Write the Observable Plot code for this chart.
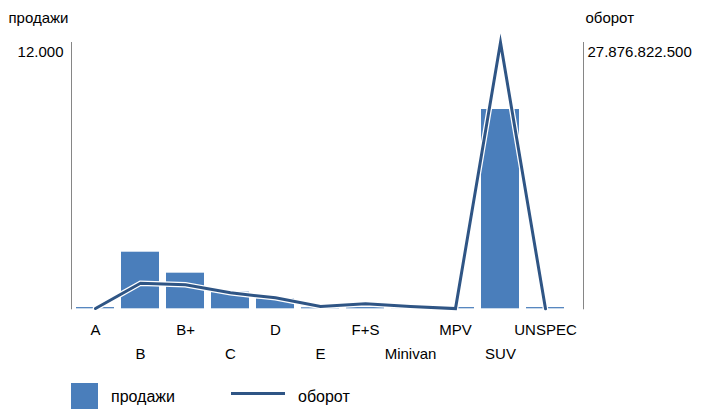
<!DOCTYPE html>
<html>
<head>
<meta charset="utf-8">
<script src="https://cdn.jsdelivr.net/npm/d3@7"></script>
<script src="https://cdn.jsdelivr.net/npm/@observablehq/plot@0.6"></script>
<style>
  body { margin: 0; background: #fff; font-family: 'Liberation Sans', Arial, sans-serif; }
  #legend { position: relative; height: 41px; width: 709px; font-size: 16px; color: #000; }
  #legend .sw { position: absolute; }
  #legend .lb { position: absolute; top: 17px; line-height: 20px; }
</style>
</head>
<body>
<div id="chart"></div>
<div id="legend">
  <span class="sw" style="left:71px;top:13px;width:27px;height:26px;background:#4a7ebb"></span>
  <span class="lb" style="left:111px">продажи</span>
  <span class="sw" style="left:231px;top:22px;width:54px;height:3px;background:#2f5585"></span>
  <span class="lb" style="left:298px">оборот</span>
</div>
<script>
const categories = ["A", "B", "B+", "C", "D", "E", "F+S", "Minivan", "MPV", "SUV", "UNSPEC"];
const sales = [55, 2550, 1605, 750, 450, 45, 55, 5, 55, 8980, 55];
const revenue = [30000000, 2680000000, 2510000000, 1670000000, 1150000000, 240000000, 520000000, 240000000, 20000000, 27876822500, 0];
const salesMax = 12000;
const revenueMax = 27876822500;
const leftTitle = "продажи";
const rightTitle = "оборот";
const leftTickLabel = "12.000";
const rightTickLabel = "27.876.822.500";

const data = categories.map((c, i) => ({cat: c, sales: sales[i], rev: revenue[i], revScaled: revenue[i] * salesMax / revenueMax}));
const evenCats = categories.filter((c, i) => i % 2 === 0);
const oddCats = categories.filter((c, i) => i % 2 === 1);

const chart = Plot.plot({
  width: 709,
  height: 370,
  marginTop: 42,
  marginBottom: 61.7,
  marginLeft: 71,
  marginRight: 126,
  style: {fontFamily: "'Liberation Sans', Arial, sans-serif", fontSize: "15px", color: "#000", background: "#fff"},
  x: {domain: categories, range: [70, 570], paddingInner: 0.16, paddingOuter: 0.08, align: 0.5},
  y: {domain: [0, salesMax]},
  marks: [
    Plot.frame({anchor: "left", stroke: "#868686"}),
    Plot.frame({anchor: "right", stroke: "#868686"}),
    Plot.barY(data, {x: "cat", y: "sales", fill: "#4a7ebb"}),
    Plot.line(data, {x: "cat", y: "revScaled", stroke: "#fff", strokeWidth: 5.5, strokeLinejoin: "miter", strokeMiterlimit: 20}),
    Plot.line(data, {x: "cat", y: "revScaled", stroke: "#2f5585", strokeWidth: 3, strokeLinejoin: "miter", strokeMiterlimit: 20}),
    Plot.axisY({anchor: "left", ticks: [salesMax], tickFormat: () => leftTickLabel, tickSize: 0, tickPadding: 8, dy: 10, label: null}),
    Plot.axisY({anchor: "right", ticks: [salesMax], tickFormat: () => rightTickLabel, tickSize: 0, tickPadding: 4, dy: 10, label: null}),
    Plot.axisX({ticks: evenCats, tickSize: 0, tickPadding: 16, label: null}),
    Plot.axisX({ticks: oddCats, tickSize: 0, tickPadding: 40, label: null}),
    Plot.text([leftTitle], {frameAnchor: "top-left", dx: -63, dy: -24, textAnchor: "start", lineAnchor: "middle", fill: "#000"}),
    Plot.text([rightTitle], {frameAnchor: "top-right", dx: 2, dy: -24, textAnchor: "start", lineAnchor: "middle", fill: "#000"})
  ]
});
chart.style.display = "block";
document.getElementById("chart").appendChild(chart);
</script>
</body>
</html>
